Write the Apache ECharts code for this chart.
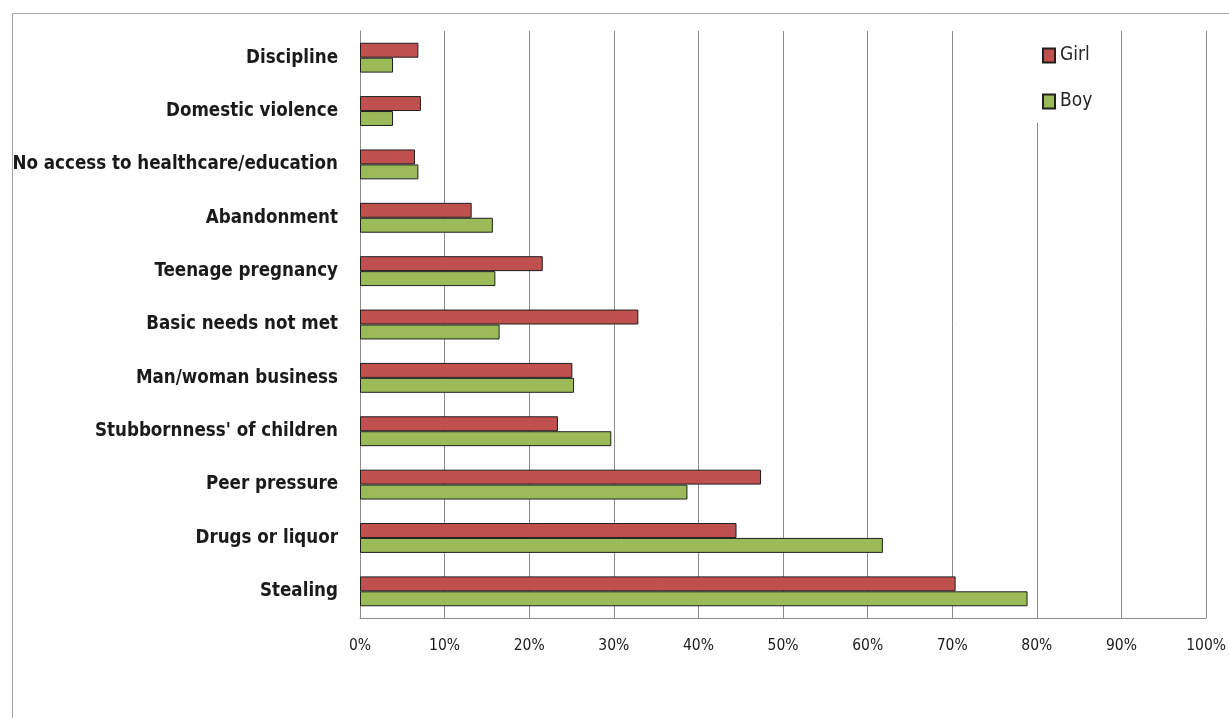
<!DOCTYPE html>
<html>
<head>
<meta charset="utf-8">
<script src="https://cdn.jsdelivr.net/npm/echarts@6/dist/echarts.min.js"></script>
<style>
  html, body { margin: 0; padding: 0; background: #fff; }
  #chart { width: 1229px; height: 718px; }
</style>
</head>
<body>
<div id="chart"></div>
<script>
// Reasons given, listed top to bottom
const categories = [
  'Discipline',
  'Domestic violence',
  'No access to healthcare/education',
  'Abandonment',
  'Teenage pregnancy',
  'Basic needs not met',
  'Man/woman business',
  "Stubbornness' of children",
  'Peer pressure',
  'Drugs or liquor',
  'Stealing'
];

// Share of respondents (%)
const girlValues = [6.9, 7.2, 6.5, 13.2, 21.6, 32.9, 25.1, 23.4, 47.4, 44.5, 70.4];
const boyValues  = [3.9, 3.9, 6.9, 15.7, 16.0, 16.5, 25.3, 29.7, 38.7, 61.8, 78.9];

const tickLabels = ['0%', '10%', '20%', '30%', '40%', '50%', '60%', '70%', '80%', '90%', '100%'];

const labelFont = '"Liberation Sans Narrow", "DejaVu Sans Condensed", "Liberation Sans", sans-serif';

const chart = echarts.init(document.getElementById('chart'), null, { renderer: 'canvas' });

chart.setOption({
  animation: false,
  backgroundColor: '#fff',
  graphic: [{
    type: 'rect',
    left: 10, top: 11,
    shape: { x: 0, y: 0, width: 1260, height: 760 },
    style: { fill: 'none', stroke: '#a6a6a6', lineWidth: 1 },
    z: -10
  }],
  grid: { left: 360, right: 22, top: 31, bottom: 100, containLabel: false },
  legend: {
    orient: 'vertical',
    left: 1030,
    top: 30,
    padding: [16, 14, 12, 12],
    itemGap: 27,
    itemWidth: 12,
    itemHeight: 14,
    icon: 'rect',
    backgroundColor: '#fff',
    textStyle: { fontFamily: labelFont, fontSize: 19, color: '#262626', padding: [0, 6, 0, 0] },
    data: ['Girl', 'Boy'],
    z: 10
  },
  xAxis: {
    type: 'value',
    min: 0, max: 100, interval: 10,
    axisLine: { show: true, lineStyle: { color: '#8c8c8c', width: 1 } },
    axisTick: { show: false },
    splitLine: { show: true, lineStyle: { color: '#8c8c8c', width: 1 } },
    axisLabel: {
      margin: 20,
      color: '#1a1a1a',
      fontFamily: labelFont,
      fontSize: 15.5,
      formatter: function (v) { return tickLabels[Math.round(v / 10)]; }
    }
  },
  yAxis: {
    type: 'category',
    inverse: true,
    data: categories,
    axisLine: { show: true, lineStyle: { color: '#8c8c8c', width: 1 } },
    axisTick: { show: false },
    axisLabel: {
      margin: 22,
      color: '#1a1a1a',
      fontFamily: labelFont,
      fontWeight: 'bold',
      fontSize: 18.6
    }
  },
  series: [
    {
      name: 'Girl',
      type: 'bar',
      data: girlValues,
      barGap: '0%',
      barCategoryGap: '44%',
      itemStyle: { color: '#C0504D', borderColor: '#1f1f1f', borderWidth: 1 }
    },
    {
      name: 'Boy',
      type: 'bar',
      data: boyValues,
      itemStyle: { color: '#9BBB59', borderColor: '#1f1f1f', borderWidth: 1 }
    }
  ]
});
</script>
</body>
</html>
